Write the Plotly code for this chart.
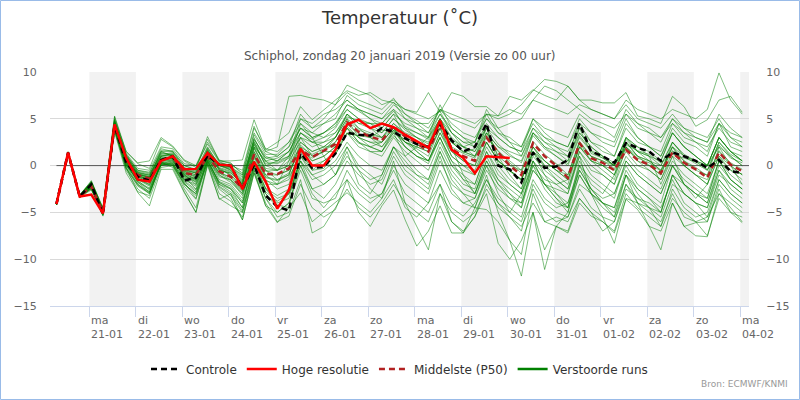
import pandas as pd
import plotly.graph_objects as go

# 6-hourly steps (CET), run of Sunday 20 Jan 2019 00 UTC
times = pd.date_range("2019-01-20 07:00", periods=60, freq="6h")

day_ticks = pd.date_range("2019-01-21", "2019-02-04", freq="D")
day_names = ["ma", "di", "wo", "do", "vr", "za", "zo",
             "ma", "di", "wo", "do", "vr", "za", "zo", "ma"]
day_dates = ["21-01", "22-01", "23-01", "24-01", "25-01", "26-01", "27-01",
             "28-01", "29-01", "30-01", "31-01", "01-02", "02-02", "03-02", "04-02"]

y_ticks = [-15, -10, -5, 0, 5, 10]

# Controle (control run)
controle = [-4.1, 1.4, -3.3,
            -2.0, -5.2, 4.3, 0.3,
            -1.2, -1.6, 0.6, 1.0,
            -1.6, -1.3, 1.1, 0.1,
            0.0, -2.5, 0.1, -3.2,
            -4.4, -4.8, 1.35, -0.25,
            -0.15, 1.3, 3.5, 3.3,
            3.2, 4.0, 3.6, 2.9,
            2.3, 2.0, 4.5, 2.7,
            1.5, 2.0, 4.5, 0.0,
            -0.4, -1.8, 1.4, -0.25,
            -0.1, 0.6, 4.5, 1.5,
            1.0, 0.3, 2.4, 1.9,
            1.5, 0.5, 1.4, 1.0,
            0.5, -0.25, 0.6, -0.6,
            -0.8]

# Hoge resolutie (HRES, up to +240h)
hoge_resolutie = [-4.1, 1.4, -3.3,
                  -3.1, -5.1, 4.4, 0.8,
                  -1.5, -1.7, 0.5, 1.0,
                  -0.4, -0.35, 1.35, 0.1,
                  0.0, -2.5, 0.4, -1.7,
                  -4.6, -2.6, 1.8, 0.0,
                  0.0, 1.7, 4.4, 4.9,
                  4.0, 4.5, 4.1, 3.3,
                  2.6, 1.9, 4.8, 1.7,
                  0.8, -0.8, 1.0, 0.9,
                  0.8]

# Middelste (P50)
middelste = [-4.1, 1.3, -3.3,
             -2.2, -5.0, 4.2, 0.5,
             -1.0, -1.4, 0.6, 0.9,
             -0.8, -1.0, 1.0, -0.6,
             -1.2, -2.4, 1.2, -0.9,
             -0.9, -0.3, 1.7, 0.9,
             1.6, 2.3, 4.6, 3.6,
             3.1, 2.7, 4.2, 3.1,
             2.4, 1.5, 4.4, 1.8,
             1.0, 0.5, 3.0, 1.4,
             0.0, -1.0, 2.4, 1.0,
             0.0, -1.3, 2.4, 0.8,
             0.3, -0.5, 1.7, 0.6,
             0.1, -0.8, 1.4, 0.3,
             -0.4, -1.3, 1.4, 0.1,
             -0.6]

# Verstoorde runs (a selection of the ensemble members)
run01 = [-4.0, 1.4, -3.2, -1.8, -4.8, 4.6, 1.0, -1.2, -1.5, 1.0, 1.3, -0.5, -0.8, 1.5, 0.2,
         -0.5, -2.0, 2.0, 0.5, 0.8, 1.5, 3.5, 2.8, 3.5, 4.2, 6.5, 5.8, 5.0, 4.5, 5.8, 4.2,
         3.5, 2.8, 5.0, 3.0, 2.0, 1.5, 3.5, 2.0, 1.0, 0.5, 3.5, 2.0, 1.0, 0.0, 3.0, 1.5,
         0.8, 0.0, 2.5, 1.0, 0.5, -0.5, 2.0, 1.0, 0.2, -0.5, 2.5, 1.2, 0.5]
run02 = [-4.2, 1.3, -3.4, -2.3, -5.2, 4.0, 0.2, -1.8, -2.5, 0.2, 0.5, -1.5, -2.0, 0.5, -1.8,
         -2.5, -4.0, 0.5, -2.5, -3.5, -3.0, 0.5, -1.0, -0.5, 0.5, 2.5, 1.0, 0.0, -0.5, 2.0, 0.5,
         -1.0, -2.0, 1.5, -1.0, -2.5, -3.0, 0.5, -1.5, -3.0, -4.5, -0.5, -2.0, -3.5, -5.0, 0.0, -1.5,
         -2.5, -3.5, 0.5, -1.0, -2.0, -3.0, 0.0, -1.5, -2.5, -3.5, 0.5, -1.0, -2.0]
run03 = [-4.1, 1.4, -3.2, -1.6, -4.6, 5.0, 1.5, 0.2, -0.3, 2.8, 2.0, 0.5, -0.2, 2.5, 0.5,
         0.3, -1.0, 3.5, 1.5, 2.0, 7.4, 7.5, 7.2, 7.0, 6.5, 7.8, 7.0, 6.5, 6.0, 7.2, 5.5,
         4.5, 3.5, 5.5, 4.0, 3.0, 2.0, 4.5, 3.0, 2.0, 1.5, 5.0, 4.0, 3.5, 3.0, 5.5, 4.5,
         4.0, 3.0, 6.0, 4.5, 3.5, 2.5, 5.0, 3.5, 2.5, 1.5, 4.5, 3.0, 2.0]
run04 = [-4.2, 1.3, -3.3, -2.5, -5.4, 3.8, -0.5, -2.5, -3.5, -0.2, 0.0, -2.5, -4.5, 0.2, -3.0,
         -3.8, -5.5, -0.5, -3.5, -5.5, -5.0, -1.5, -7.2, -6.5, -4.5, -2.5, -4.5, -5.5, -4.0, -2.0, -4.0,
         -5.0, -6.0, -3.0, -5.0, -6.0, -5.0, -2.5, -4.5, -5.5, -6.5, -4.0, -6.0, -6.5, -7.0, -3.5, -5.0,
         -6.0, -7.0, -3.0, -4.5, -5.5, -6.5, -3.5, -5.0, -6.0, -7.5, -3.5, -5.0, -5.5]
run05 = [-4.1, 1.3, -3.3, -2.0, -5.0, 4.3, 0.6, -0.8, -1.2, 0.8, 0.9, -0.6, -1.0, 1.2, -0.3,
         -1.0, -2.2, 1.5, -0.6, -0.5, 0.0, 2.0, 1.2, 1.8, 2.5, 4.8, 3.8, 3.3, 3.0, 4.5, 3.3,
         2.6, 1.8, 4.6, 2.0, 1.3, 0.8, 3.2, 1.6, 0.3, -0.8, 2.6, 1.2, 0.2, -1.0, 2.6, 1.0,
         0.5, -0.3, 1.9, 0.8, 0.3, -0.6, 1.6, 0.5, -0.2, -1.1, 1.6, 0.3, -0.4]
run06 = [-4.0, 1.4, -3.2, -2.1, -4.9, 4.5, 0.8, -1.0, -1.6, 0.5, 0.6, -1.2, -2.5, 1.0, -1.0,
         -1.8, -3.0, 1.8, -0.5, -1.5, -1.0, 2.5, 1.5, 2.0, 3.0, 5.5, 4.0, 3.0, 2.0, 3.5, 1.0,
         -0.5, -1.5, 1.5, -1.5, -3.0, -4.5, -1.0, -5.0, -8.0, -11.8, -5.0, -9.0, -6.5, -5.0, -1.0, -3.0,
         -4.5, -5.5, -2.0, -3.5, -4.0, -5.0, -1.0, -2.0, -3.0, -4.0, 0.0, -1.5, -2.5]
run07 = [-4.1, 1.4, -3.3, -1.9, -4.7, 4.8, 1.2, -0.5, -0.8, 1.8, 1.5, 0.0, -0.5, 2.0, 0.0,
         -0.3, -1.5, 2.8, 1.0, 0.5, 1.5, 4.0, 3.5, 4.5, 5.5, 7.0, 6.0, 5.5, 5.0, 6.5, 5.5,
         4.8, 4.0, 6.0, 5.0, 4.5, 4.0, 5.5, 5.0, 5.5, 6.5, 8.0, 9.2, 9.0, 8.5, 7.0, 6.0,
         5.5, 5.0, 6.5, 5.0, 4.5, 4.0, 5.5, 4.0, 3.5, 3.0, 5.0, 3.0, 2.5]
run08 = [-4.2, 1.3, -3.3, -2.4, -5.3, 3.9, 0.0, -2.0, -3.0, 0.0, 0.3, -1.8, -3.5, 0.8, -2.0,
         -2.8, -4.5, 0.0, -2.5, -4.0, -3.5, 1.0, -1.0, -2.0, -1.0, 2.0, -0.5, -2.5, -3.5, 0.5, -4.0,
         -6.5, -9.0, -3.0, -6.0, -7.0, -5.5, -2.0, -4.0, -5.0, -6.0, -2.5, -5.0, -6.0, -5.5, -2.0, -3.0,
         -4.0, -5.0, -1.0, -3.0, -4.5, -5.5, -2.0, -3.0, -4.0, -5.5, -1.5, -3.0, -4.0]
run09 = [-4.0, 1.5, -3.1, -1.7, -4.5, 5.2, 1.3, -0.3, -0.5, 2.0, 1.8, 0.2, 0.0, 2.3, 0.4,
         0.0, -0.5, 4.2, 1.5, 1.0, 2.0, 5.5, 4.0, 4.5, 5.0, 7.5, 6.5, 6.0, 5.5, 6.8, 5.0,
         4.0, 3.0, 6.5, 4.0, 3.0, 2.5, 6.0, 4.0, 2.5, 1.0, 4.0, 2.5, 1.5, 0.5, 3.5, 2.0,
         1.0, 0.0, 3.0, 2.0, 1.5, 0.5, 3.5, 2.0, 1.0, 0.0, 3.0, 1.5, 1.0]
run10 = [-4.2, 1.3, -3.4, -2.6, -5.0, 3.6, -0.8, -2.8, -3.2, 0.3, 0.0, -2.0, -3.0, 0.3, -2.5,
         -3.5, -5.8, -0.8, -4.0, -6.0, -5.4, -2.0, -4.5, -5.5, -4.7, -1.5, -3.0, -4.0, -3.0, 0.0, -2.0,
         -3.0, -4.0, -0.5, -3.0, -4.0, -3.5, 0.0, -2.0, -3.0, -4.0, 0.0, -2.5, -4.0, -4.5, -0.5, -2.5,
         -4.0, -4.5, -1.0, -2.5, -3.5, -4.5, -1.5, -4.0, -5.0, -6.0, -2.0, -3.5, -4.5]
run11 = [-4.1, 1.4, -3.2, -2.0, -4.9, 4.7, 0.9, -1.0, -1.2, 1.5, 1.0, -0.8, -1.5, 1.8, -0.5,
         -0.8, -2.0, 3.0, 0.5, -0.5, 1.0, 5.0, 4.0, 5.0, 6.5, 8.6, 8.0, 7.5, 6.5, 7.0, 6.0,
         5.5, 5.0, 5.8, 3.5, 2.0, 1.0, 4.0, 1.0, -1.0, -2.5, 1.5, 0.0, -1.0, -2.0, 2.0, 0.5,
         -0.5, -1.5, 2.5, 1.0, 0.0, -1.0, 2.0, 0.0, -1.0, -2.0, 1.0, 0.0, -1.0]
run12 = [-4.1, 1.3, -3.3, -2.2, -5.1, 4.1, 0.3, -1.5, -2.0, 0.6, 0.8, -1.0, -1.8, 0.9, -1.5,
         -2.0, -3.5, 1.0, -1.5, -2.5, -2.0, 2.0, 0.5, 1.0, 2.0, 4.0, 2.5, 2.0, 1.5, 3.5, 2.5,
         2.0, 1.5, 4.0, 2.5, 2.0, 2.5, 5.0, 4.0, 4.5, 5.0, 7.0, 6.5, 6.0, 5.5, 6.5, 6.0,
         5.5, 5.0, 7.0, 6.0, 5.5, 5.0, 6.0, 5.5, 5.0, 6.0, 9.9, 7.0, 5.5]
run13 = [-4.1, 1.4, -3.3, -2.1, -5.0, 4.4, 0.5, -1.3, -2.0, 0.3, 0.5, -1.5, -2.2, 0.8, -1.2,
         -1.5, -3.0, 0.5, -2.0, -2.0, -1.5, 1.5, -0.5, 0.5, 1.5, 3.5, 2.0, 1.5, 1.0, 3.0, 1.5,
         0.5, -0.5, 2.5, 0.0, -1.0, -2.0, 1.5, -1.0, -2.0, -3.0, 0.5, -2.0, -3.0, -4.0, 0.0, -2.5,
         -4.0, -5.5, -1.0, -4.0, -6.5, -9.0, -4.0, -6.5, -7.5, -7.6, -3.0, -4.5, -6.0]
run14 = [-4.2, 1.4, -3.3, -2.0, -5.1, 4.0, 0.0, -1.5, -2.2, 0.0, 0.4, -1.0, -2.0, 1.2, -0.8,
         -1.5, -2.8, 2.0, -0.5, -1.0, -0.5, 3.0, 1.0, 1.5, 3.0, 5.0, 3.0, 2.0, 2.5, 4.0, 2.0,
         1.0, 0.5, 3.5, 1.0, 0.0, -1.0, 2.5, 0.5, -0.5, -1.5, 2.0, 0.0, -1.5, -2.5, 1.0, -3.0,
         -5.5, -8.3, -3.5, -4.0, -4.5, -5.0, -1.0, -3.0, -4.0, -4.5, -1.0, -2.0, -3.0]
run15 = [-4.0, 1.4, -3.2, -1.8, -4.8, 4.9, 1.1, -0.6, -0.9, 1.2, 1.4, -0.2, -0.6, 1.5, 0.3,
         0.0, -1.2, 2.5, 0.8, 0.5, 1.0, 3.0, 2.5, 3.0, 4.0, 6.0, 5.0, 4.5, 3.5, 5.0, 4.0,
         3.5, 3.0, 5.5, 3.5, 2.5, 2.5, 5.5, 3.5, 3.0, 2.0, 5.0, 3.5, 2.5, 2.0, 5.0, 3.5,
         2.5, 2.0, 5.0, 3.0, 2.0, 1.0, 4.0, 2.5, 2.0, 1.0, 4.5, 2.0, 1.5]
run16 = [-4.2, 1.3, -3.3, -2.5, -5.2, 3.7, -0.3, -2.2, -3.0, 0.4, -0.2, -2.8, -5.0, 0.0, -3.5,
         -4.3, -5.0, -0.5, -4.3, -5.0, -4.0, 0.0, -3.0, -4.5, -3.0, -1.5, -5.0, -6.5, -4.3, -2.6, -5.8,
         -8.6, -7.0, -4.3, -7.2, -7.2, -5.4, -3.0, -8.3, -10.0, -8.0, -5.0, -11.1, -6.5, -7.2, -4.0, -5.4,
         -6.0, -7.2, -3.6, -4.7, -6.5, -7.0, -4.0, -6.5, -6.1, -6.0, -2.5, -5.0, -6.1]
run17 = [-4.1, 1.4, -3.2, -1.9, -4.8, 4.6, 1.0, -0.8, -1.0, 1.5, 1.6, 0.0, -0.4, 3.1, 0.5,
         0.5, 0.6, 4.9, 1.7, 2.5, 3.5, 6.3, 4.9, 6.0, 7.0, 8.0, 7.5, 7.8, 7.0, 6.7, 6.0,
         5.7, 7.8, 5.7, 7.8, 7.4, 6.3, 6.3, 5.3, 7.4, 7.0, 8.1, 7.5, 7.0, 8.5, 7.0, 7.0,
         6.7, 6.7, 7.8, 5.3, 5.0, 4.5, 7.4, 6.3, 4.2, 4.9, 7.0, 7.4, 5.7]
run18 = [-4.2, 1.3, -3.4, -2.4, -5.3, 4.0, -0.2, -2.9, -4.3, -0.4, -0.4, -2.9, -5.0, 0.2, -3.6,
         -3.0, -5.8, -0.8, -4.3, -6.1, -4.5, -2.9, -6.0, -5.0, -4.0, -2.9, -4.0, -5.0, -3.5, -1.5, -4.5,
         -5.5, -4.0, -2.0, -6.0, -7.2, -4.5, -4.7, -6.0, -8.0, -9.5, -3.0, -6.0, -5.5, -6.0, -3.5, -5.0,
         -7.0, -6.0, -2.0, -4.0, -5.0, -6.0, -3.0, -5.5, -6.0, -5.5, -3.0, -4.0, -5.0]
run19 = [-4.1, 1.4, -3.3, -1.9, -5.1, 4.3, 0.4, -1.1, -1.5, 0.6, 1.0, -1.4, -1.3, 1.1, 0.0,
         0.0, -2.3, 0.3, -3.0, -4.2, -4.5, 1.0, -0.5, -0.3, 1.2, 3.4, 3.2, 3.0, 3.8, 3.6, 2.8,
         2.2, 1.8, 4.3, 2.5, 1.4, 1.8, 4.2, 0.2, -0.6, -1.6, 1.5, -0.2, 0.0, 0.5, 4.0, 1.3,
         0.8, 0.0, 2.2, 1.6, 1.2, 0.3, 1.2, 0.8, 0.4, -0.4, 0.8, -0.5, -0.9]
run20 = [-4.1, 1.3, -3.4, -2.3, -5.2, 4.1, 0.2, -1.4, -2.1, 0.4, 0.6, -1.2, -1.7, 0.7, -1.0,
         -1.6, -3.2, 0.8, -1.6, -2.0, -1.2, 1.0, 0.0, 0.5, 1.2, 3.5, 2.4, 2.0, 1.5, 3.2, 2.0,
         1.0, 0.2, 3.0, 0.5, -0.5, -1.0, 2.0, 0.0, -1.5, -2.5, 1.0, -0.5, -1.5, -2.5, 1.5, -0.5,
         -1.0, -2.0, 1.0, -0.5, -1.5, -2.5, 0.5, -1.0, -2.0, -3.0, 0.5, -1.5, -2.5]
run21 = [-4.0, 1.4, -3.2, -1.8, -4.9, 4.6, 0.9, -0.7, -1.0, 1.0, 1.2, -0.4, -0.8, 1.4, 0.0,
         -0.5, -1.7, 2.2, 0.2, 0.2, 0.8, 3.0, 2.0, 2.5, 3.5, 5.5, 4.5, 4.0, 3.5, 5.0, 3.8,
         3.0, 2.3, 5.0, 2.8, 2.0, 1.5, 4.0, 2.3, 1.2, 0.3, 3.2, 1.8, 1.0, 0.2, 3.2, 1.6,
         1.0, 0.3, 2.8, 1.5, 1.0, 0.0, 2.5, 1.2, 0.5, -0.5, 2.2, 0.8, 0.3]
run22 = [-4.2, 1.4, -3.3, -2.2, -5.0, 4.4, 0.4, -1.8, -2.8, 0.2, 0.2, -2.0, -3.0, 0.6, -2.0,
         -2.5, -4.5, 1.5, -1.0, -2.0, 0.5, 4.5, 3.0, 1.0, -1.0, 1.5, -2.0, -3.0, -1.0, 2.0, 1.0,
         2.0, 3.0, 5.0, 2.0, -1.0, -3.0, 0.0, -3.0, -5.0, -3.0, 1.5, -1.0, -3.0, -4.5, 0.5, -2.0,
         -3.0, -1.0, 3.0, 2.0, 1.0, -2.0, 1.0, -2.0, -3.5, -2.0, 2.0, 0.0, -2.0]
run23 = [-4.1, 1.4, -3.2, -1.7, -4.6, 5.3, 1.5, 0.3, 0.5, 3.0, 2.1, 0.6, 0.0, 2.8, 0.6,
         0.2, -0.8, 4.0, 1.8, 1.5, 2.5, 5.0, 4.5, 5.5, 6.0, 7.0, 6.0, 5.0, 4.0, 5.5, 3.0,
         1.5, 0.5, 3.0, 0.5, -1.5, -3.0, 0.5, -2.0, -3.5, -4.5, 0.5, -1.0, -2.0, -3.0, 1.5, 0.0,
         -1.0, -2.0, 2.0, 0.5, 0.0, -1.0, 2.5, 1.0, 0.5, 0.0, 3.0, 1.5, 0.5]
run24 = [-4.1, 1.3, -3.3, -2.1, -5.0, 4.2, 0.3, -1.2, -1.8, 0.7, 0.8, -1.0, -1.5, 1.0, -0.8,
         -1.2, -2.6, 1.3, -1.2, -1.5, -0.8, 1.8, 0.5, 1.0, 2.0, 4.2, 3.0, 2.5, 2.0, 3.8, 2.5,
         1.8, 1.0, 4.0, 1.5, 0.5, 0.0, 3.5, 1.0, 0.0, -0.5, 3.5, 2.0, 1.5, 1.0, 4.5, 2.5,
         2.0, 1.0, 4.0, 2.5, 2.0, 1.0, 3.5, 2.0, 1.0, 0.0, 3.0, 1.5, 0.5]
run25 = [-4.1, 1.4, -3.2, -1.9, -4.8, 4.5, 0.7, -0.9, -1.3, 1.3, 1.1, -0.6, -1.2, 1.6, -0.2,
         -0.6, -1.8, 2.6, 0.0, 0.5, 1.5, 4.0, 3.0, 3.5, 4.5, 6.0, 5.0, 4.0, 3.0, 4.0, 2.5,
         1.5, 0.5, 3.5, 1.5, 0.5, 0.0, 2.5, 0.5, -0.5, -1.5, 2.0, 0.5, -0.5, -1.5, 2.0, 1.0,
         0.0, -1.0, 2.5, 1.5, 1.0, 0.5, 3.5, 2.0, 1.0, 0.0, 3.0, 1.5, 0.5]
run26 = [-4.2, 1.3, -3.3, -2.3, -5.1, 4.1, 0.1, -1.6, -2.6, 0.3, 0.3, -1.7, -2.8, 0.6, -1.7,
         -2.2, -3.8, 0.3, -2.4, -3.2, -2.5, 0.5, -1.5, -1.0, 0.0, 2.0, 0.0, -1.0, -2.0, 1.0, -1.0,
         -2.0, -3.0, 0.5, -2.0, -3.0, -3.5, -0.5, -2.5, -3.5, -4.0, -0.5, -2.0, -2.5, -3.0, 1.0, -1.0,
         -2.0, -3.0, 0.5, -1.0, -2.0, -3.0, 0.0, -2.0, -3.0, -4.0, -0.5, -2.0, -3.0]
run27 = [-4.0, 1.4, -3.2, -1.8, -4.7, 4.7, 1.1, -0.5, -0.7, 1.6, 1.5, -0.3, -0.7, 1.9, 0.1,
         -0.2, -1.0, 3.3, 1.2, 1.2, 2.5, 4.5, 3.5, 3.0, 3.5, 5.2, 4.8, 4.5, 4.0, 5.5, 4.5,
         4.0, 3.5, 6.0, 4.5, 3.5, 3.0, 5.0, 3.5, 2.5, 2.0, 4.5, 3.0, 2.0, 1.5, 4.0, 2.5,
         1.5, 1.0, 4.5, 3.0, 2.0, 1.5, 4.5, 3.0, 2.5, 2.0, 4.0, 2.5, 2.0]
run28 = [-4.1, 1.4, -3.3, -2.0, -5.0, 4.3, 0.5, -1.1, -1.5, 0.9, 0.7, -0.9, -1.4, 1.3, -0.5,
         -0.8, -2.0, 2.4, 0.0, -0.5, 0.0, 3.5, 2.5, 2.0, 2.0, 4.0, 2.5, 1.5, 1.5, 3.8, 2.0,
         1.0, 0.5, 3.0, 0.0, -1.5, -2.0, 1.5, -0.5, -2.0, -3.0, 0.0, -1.5, -2.0, -1.5, 2.5, 1.0,
         0.5, 0.0, 3.0, 1.5, 0.5, -0.5, 2.0, 0.5, -0.5, -1.0, 2.5, 1.0, 0.0]
run29 = [-4.2, 1.3, -3.4, -2.4, -5.2, 3.9, -0.2, -2.0, -2.8, 0.1, 0.1, -2.2, -3.6, 0.4, -2.2,
         -3.0, -4.8, -0.2, -3.0, -4.5, -3.0, 0.5, -2.5, -3.5, -2.0, 0.5, -1.0, -2.0, -1.5, 1.5, -0.5,
         -1.5, -2.5, 1.0, -2.5, -4.0, -4.5, -1.5, -4.0, -5.5, -7.0, -2.0, -4.0, -5.0, -5.5, -2.5, -4.5,
         -5.5, -6.0, -2.5, -3.5, -4.5, -6.5, -2.5, -4.5, -5.5, -5.0, -1.5, -3.0, -4.0]
run30 = [-4.1, 1.4, -3.3, -2.1, -4.9, 4.4, 0.6, -1.0, -1.4, 0.7, 0.8, -0.8, -1.1, 1.1, -0.4,
         -1.0, -2.4, 1.0, -1.0, -1.0, -0.5, 1.5, 0.8, 1.5, 2.5, 4.4, 3.4, 3.0, 2.5, 4.0, 3.0,
         2.5, 2.0, 4.5, 2.5, 1.5, 1.0, 3.0, 1.5, 0.5, -0.5, 2.0, 0.5, -0.5, -1.5, 2.0, 0.5,
         0.0, -1.0, 1.5, 0.0, -0.5, -1.5, 1.0, 0.0, -1.0, -1.5, 1.5, 0.0, -1.0]
run31 = [-4.1, 1.4, -3.2, -2.0, -4.9, 4.5, 0.7, -0.9, -1.3, 1.0, 1.0, -0.7, -1.3, 1.4, -0.3,
         -0.7, -1.9, 1.9, -0.3, -0.5, 0.5, 2.5, 1.5, 2.0, 3.0, 5.0, 4.0, 3.5, 3.0, 4.5, 3.5,
         3.0, 2.5, 5.0, 3.5, 2.5, 2.0, 4.0, 3.0, 2.0, 1.5, 4.0, 3.0, 2.5, 2.0, 4.5, 3.5,
         3.0, 2.5, 5.5, 4.5, 4.0, 3.0, 5.0, 4.0, 3.0, 2.5, 5.5, 4.0, 3.0]
run32 = [-4.2, 1.3, -3.4, -2.2, -5.1, 4.0, 0.1, -1.7, -2.4, 0.1, 0.2, -1.6, -2.6, 0.5, -1.8,
         -2.4, -4.0, 0.0, -2.8, -3.8, -3.0, 0.0, -2.5, -2.0, -1.0, 1.0, -0.5, -1.5, -1.0, 2.0, 0.0,
         -1.0, -1.5, 2.0, -0.5, -2.0, -2.5, 1.0, -1.5, -2.5, -3.5, 0.5, -2.0, -3.5, -4.5, -1.0, -3.0,
         -4.0, -4.5, -0.5, -2.5, -3.5, -5.0, -1.0, -3.0, -4.0, -4.5, -0.5, -2.5, -3.5]
run33 = [-4.1, 1.3, -3.3, -2.1, -5.0, 4.2, 0.4, -1.2, -1.7, 0.6, 0.7, -1.1, -1.6, 0.9, -0.7,
         -1.3, -2.7, 1.1, -1.3, -1.6, -1.0, 2.2, 1.0, 1.5, 1.5, 4.0, 3.0, 2.5, 2.5, 4.0, 2.5,
         2.0, 1.5, 4.0, 1.0, 0.0, -0.5, 2.5, 0.5, -0.5, -1.5, 1.5, 0.5, -0.5, -1.0, 2.5, 0.5,
         0.0, -0.5, 2.0, 0.5, -0.5, -1.5, 1.5, 0.0, -1.0, -2.0, 1.0, -0.5, -1.5]
run34 = [-4.0, 1.4, -3.2, -1.8, -4.8, 4.7, 1.0, -0.7, -1.1, 1.4, 1.2, -0.4, -0.8, 1.7, 0.1,
         -0.2, -1.3, 2.8, 0.8, 1.0, 2.0, 4.0, 3.0, 3.5, 4.5, 6.5, 6.0, 5.5, 5.0, 6.0, 5.0,
         4.5, 4.5, 6.0, 5.5, 5.0, 4.5, 5.5, 5.3, 6.0, 5.5, 7.0, 8.5, 8.0, 7.0, 6.0, 5.0,
         4.5, 4.0, 5.5, 4.0, 3.5, 3.0, 4.5, 3.5, 3.0, 2.5, 4.5, 3.5, 3.0]
run35 = [-4.2, 1.3, -3.3, -2.3, -5.1, 3.9, -0.3, -2.1, -2.9, 0.2, 0.1, -1.9, -3.2, 0.4, -2.3,
         -3.2, -5.0, 0.0, -3.5, -5.0, -4.0, -0.5, -3.5, -4.0, -3.5, -0.5, -2.5, -3.5, -3.0, -0.5, -3.0,
         -4.0, -5.0, -2.0, -4.5, -5.4, -4.0, -1.5, -3.5, -4.5, -5.5, -1.5, -3.5, -4.5, -4.0, -0.5, -2.5,
         -3.5, -3.0, 0.0, -2.0, -3.0, -4.0, 0.0, -2.0, -3.0, -3.5, 0.5, -1.5, -2.5]
run36 = [-4.1, 1.4, -3.2, -1.9, -4.9, 4.6, 0.8, -0.9, -1.2, 1.1, 1.1, -0.5, -1.0, 1.6, 0.0,
         -0.4, -1.6, 2.3, 0.4, 0.3, 1.0, 3.5, 2.5, 2.5, 3.0, 5.5, 4.5, 4.5, 4.5, 6.0, 4.0,
         3.0, 2.0, 4.5, 2.5, 1.5, 1.0, 3.5, 2.0, 1.5, 1.0, 3.5, 2.5, 2.0, 1.0, 3.5, 2.0,
         1.0, 0.0, 2.0, 1.0, 0.5, 0.0, 2.5, 1.0, 0.5, 0.0, 2.0, 1.0, 0.0]

runs = [run01, run02, run03, run04, run05, run06, run07, run08, run09, run10, run11, run12,
        run13, run14, run15, run16, run17, run18, run19, run20, run21, run22, run23, run24,
        run25, run26, run27, run28, run29, run30, run31, run32, run33, run34, run35, run36]
for i, r in enumerate(runs):
    if len(r) != len(times):
        print("run", i + 1, "has", len(r), "values")

FONT = "DejaVu Sans"
x_start = pd.Timestamp("2019-01-20 03:40")
x_end = pd.Timestamp("2019-02-04 04:30")

fig = go.Figure()

for i, r in enumerate(runs):
    fig.add_trace(go.Scatter(x=times, y=r, mode="lines", name="Verstoorde runs",
                             line=dict(color="rgba(0,128,0,0.5)", width=1),
                             legendgroup="runs", showlegend=False, hoverinfo="skip"))

fig.add_trace(go.Scatter(x=times, y=middelste, mode="lines", name="Middelste (P50)",
                         line=dict(color="#b22222", width=2.5, dash="6px,4px"), legendrank=3))
fig.add_trace(go.Scatter(x=times, y=controle, mode="lines", name="Controle",
                         line=dict(color="black", width=2.5, dash="6px,4px"), legendrank=1))
fig.add_trace(go.Scatter(x=times[:len(hoge_resolutie)], y=hoge_resolutie, mode="lines",
                         name="Hoge resolutie", line=dict(color="#ff0000", width=2.5),
                         legendrank=2))
# legend entry for the members
fig.add_trace(go.Scatter(x=[times[0]], y=[None], mode="lines", name="Verstoorde runs",
                         line=dict(color="#008000", width=2.5), legendgroup="runs",
                         legendrank=4))
# carrier for the right-hand axis
fig.add_trace(go.Scatter(x=[times[0]], y=[0], mode="lines", yaxis="y2",
                         line=dict(width=0), showlegend=False, hoverinfo="skip"))

# alternating day bands
shapes = []
for d in day_ticks[::2]:
    shapes.append(dict(type="rect", xref="x", yref="paper", x0=d,
                       x1=min(d + pd.Timedelta(days=1), x_end), y0=0, y1=1,
                       fillcolor="#f2f2f2", line=dict(width=0), layer="below"))
shapes.append(dict(type="line", xref="x", yref="y", x0=times[0], x1=x_end, y0=0, y1=0,
                   line=dict(color="#555555", width=1), layer="between"))
# outer border of the chart
shapes.append(dict(type="rect", xref="paper", yref="paper",
                   x0=(0.5 - 50) / 699, x1=(799.5 - 50) / 699,
                   y0=(306 - 399.5) / 234, y1=(306 - 0.5) / 234,
                   line=dict(color="#99bbe8", width=1)))

annotations = []
for d, n, s in zip(day_ticks, day_names, day_dates):
    annotations.append(dict(x=d, y=-0.025, xref="x", yref="paper", xanchor="left",
                            yanchor="top", align="left", showarrow=False,
                            text=n + "<br>" + s,
                            font=dict(family=FONT, size=11, color="#666666")))
annotations.append(dict(x=0.5, y=(306 - 47) / 234, xref="paper", yref="paper",
                        text="Schiphol, zondag 20 januari 2019 (Versie zo 00 uur)",
                        showarrow=False, font=dict(family=FONT, size=12, color="#555555")))
annotations.append(dict(x=(790 - 50) / 699, y=(306 - 391) / 234, xref="paper", yref="paper",
                        xanchor="right", text="Bron: ECMWF/KNMI", showarrow=False,
                        font=dict(family=FONT, size=9, color="#999999")))

fig.update_layout(
    width=800, height=400,
    margin=dict(l=50, r=51, t=72, b=94),
    paper_bgcolor="white", plot_bgcolor="white",
    title=dict(text="Temperatuur (˚C)", x=0.5, xanchor="center", y=1 - 18 / 400,
               yanchor="middle", font=dict(family=FONT, size=18, color="#333333")),
    font=dict(family=FONT, color="#666666"),
    xaxis=dict(type="date", range=[x_start, x_end], showgrid=False, zeroline=False,
               showline=True, linecolor="#ccd6eb", tickmode="array", tickvals=day_ticks,
               ticks="outside", ticklen=10, tickcolor="#ccd6eb", showticklabels=False),
    yaxis=dict(range=[-15, 10], tickvals=y_ticks, showgrid=True, gridcolor="#d9d9d9",
               zeroline=False, ticks="outside", ticklen=10, tickcolor="rgba(0,0,0,0)",
               tickfont=dict(family=FONT, size=11, color="#666666")),
    yaxis2=dict(range=[-15, 10], tickvals=y_ticks, overlaying="y", side="right",
                showgrid=False, zeroline=False, ticks="outside", ticklen=14,
                tickcolor="rgba(0,0,0,0)",
                tickfont=dict(family=FONT, size=11, color="#666666")),
    legend=dict(orientation="h", x=0.5, xanchor="center", y=(306 - 369) / 234,
                yanchor="middle", font=dict(family=FONT, size=12, color="#333333"),
                itemwidth=30, traceorder="normal"),
    shapes=shapes, annotations=annotations,
    showlegend=True,
)

# page without the default body margin, so the 800x400 figure fills the window
fig.write_html("out.html", config={"displayModeBar": False},
               post_script="document.body.style.margin='0';document.body.style.overflow='hidden';")
